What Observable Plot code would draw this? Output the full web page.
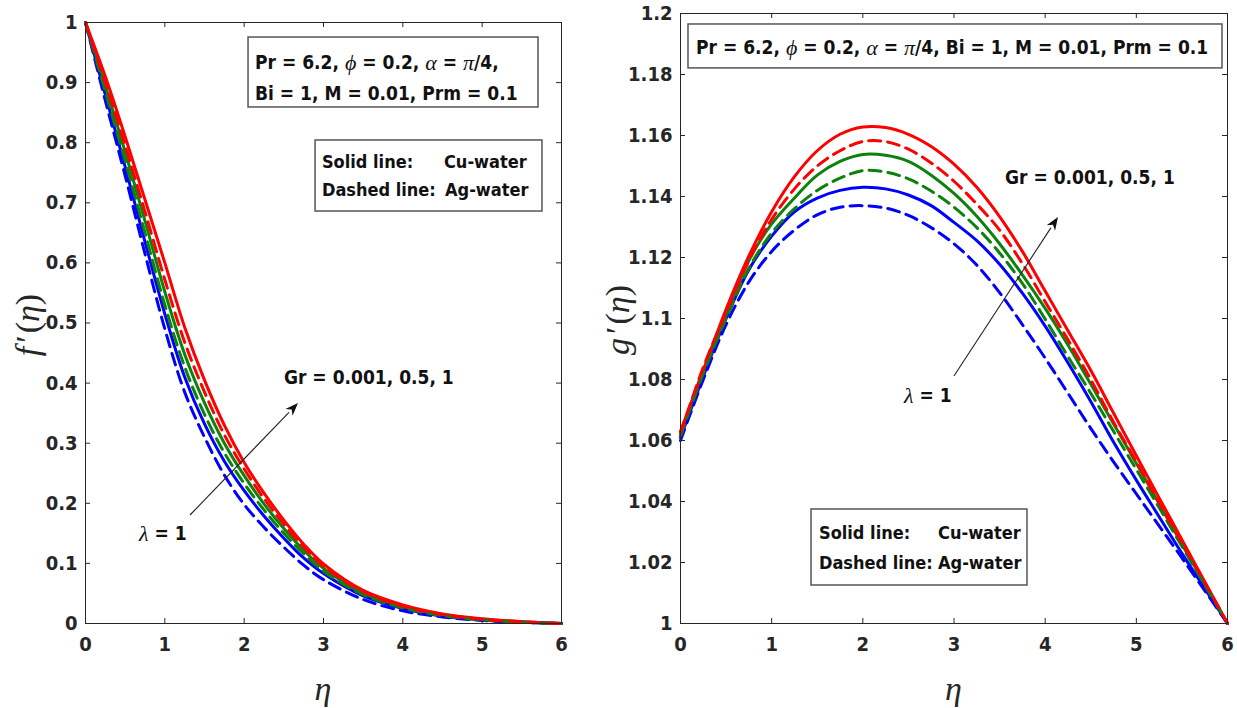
<!DOCTYPE html>
<html><head><meta charset="utf-8">
<script src="https://cdn.jsdelivr.net/npm/d3@7"></script>
<script src="https://cdn.jsdelivr.net/npm/@observablehq/plot@0.6"></script>
<style>
body{margin:0;background:#fff;}
#wrap{position:relative;width:1237px;height:708px;overflow:hidden;}
#left{position:absolute;left:0;top:0;}
#right{position:absolute;left:620px;top:0;}
svg text{font-stretch:condensed;}
</style></head><body><div id="wrap"><div id="left"></div><div id="right"></div></div>
<script>
// ---------- data ----------
const xTicks = [0, 1, 2, 3, 4, 5, 6];
const xTickLabels = ["0", "1", "2", "3", "4", "5", "6"];
const fTicks = [0, 0.1, 0.2, 0.3, 0.4, 0.5, 0.6, 0.7, 0.8, 0.9, 1];
const fTickLabels = ["0", "0.1", "0.2", "0.3", "0.4", "0.5", "0.6", "0.7", "0.8", "0.9", "1"];
const gTicks = [1, 1.02, 1.04, 1.06, 1.08, 1.1, 1.12, 1.14, 1.16, 1.18, 1.2];
const gTickLabels = ["1", "1.02", "1.04", "1.06", "1.08", "1.1", "1.12", "1.14", "1.16", "1.18", "1.2"];

const grValues = ["0.001", "0.5", "1"];
const seriesColors = ["#0000ff", "#0c820c", "#ff0000"];

// f'(eta)
const etaF = [0, 0.25, 0.5, 0.75, 1, 1.25, 1.5, 1.75, 2, 2.25, 2.5, 2.75, 3, 3.5, 4, 4.5, 5, 5.5, 6];
const fCu_Gr0001 = [1, 0.88, 0.76, 0.635, 0.515, 0.41, 0.332, 0.27, 0.221, 0.179, 0.142, 0.109, 0.083, 0.046, 0.025, 0.012, 0.006, 0.002, 0];
const fCu_Gr05   = [1, 0.895, 0.785, 0.67, 0.552, 0.448, 0.367, 0.3, 0.246, 0.199, 0.158, 0.122, 0.092, 0.051, 0.028, 0.014, 0.007, 0.003, 0];
const fCu_Gr1    = [1, 0.91, 0.81, 0.705, 0.6, 0.493, 0.405, 0.33, 0.268, 0.217, 0.172, 0.132, 0.099, 0.055, 0.031, 0.016, 0.008, 0.003, 0];
const fAg_Gr0001 = [1, 0.87, 0.745, 0.615, 0.49, 0.385, 0.31, 0.247, 0.198, 0.16, 0.127, 0.097, 0.073, 0.04, 0.021, 0.011, 0.005, 0.002, 0];
const fAg_Gr05   = [1, 0.885, 0.77, 0.65, 0.53, 0.427, 0.348, 0.284, 0.233, 0.189, 0.15, 0.116, 0.087, 0.048, 0.026, 0.013, 0.006, 0.002, 0];
const fAg_Gr1    = [1, 0.9, 0.795, 0.685, 0.572, 0.468, 0.385, 0.314, 0.257, 0.208, 0.165, 0.127, 0.095, 0.053, 0.029, 0.015, 0.007, 0.003, 0];

// g'(eta)
const etaG = [0, 0.25, 0.5, 0.75, 1, 1.25, 1.5, 1.75, 2, 2.25, 2.5, 2.75, 3, 3.25, 3.5, 3.75, 4, 4.25, 4.5, 4.75, 5, 5.25, 5.5, 5.75, 6];
const gCu_Gr0001 = [1.061, 1.081, 1.1, 1.116, 1.127, 1.135, 1.1395, 1.142, 1.143, 1.1425, 1.1405, 1.137, 1.1315, 1.1255, 1.1178, 1.1083, 1.0975, 1.0855, 1.0728, 1.0595, 1.047, 1.035, 1.023, 1.0115, 1.0];
const gCu_Gr05   = [1.062, 1.083, 1.101, 1.119, 1.131, 1.1395, 1.147, 1.1515, 1.1538, 1.1535, 1.1515, 1.147, 1.141, 1.1335, 1.1245, 1.1143, 1.1033, 1.0913, 1.0785, 1.0655, 1.0525, 1.0393, 1.026, 1.013, 1.0];
const gCu_Gr1    = [1.063, 1.083, 1.103, 1.1205, 1.135, 1.1465, 1.155, 1.1604, 1.1628, 1.1626, 1.1604, 1.1564, 1.1506, 1.143, 1.1334, 1.122, 1.109, 1.096, 1.083, 1.069, 1.055, 1.0412, 1.0275, 1.0137, 1.0];
const gAg_Gr0001 = [1.06, 1.08, 1.098, 1.112, 1.122, 1.129, 1.134, 1.1365, 1.137, 1.1362, 1.1338, 1.1298, 1.1245, 1.1175, 1.1085, 1.098, 1.087, 1.0755, 1.064, 1.053, 1.0425, 1.032, 1.0215, 1.0108, 1.0];
const gAg_Gr05   = [1.0615, 1.082, 1.1, 1.1165, 1.128, 1.136, 1.142, 1.146, 1.1485, 1.148, 1.1458, 1.1418, 1.1365, 1.1298, 1.1215, 1.1115, 1.0998, 1.0875, 1.0755, 1.063, 1.0505, 1.038, 1.0253, 1.0127, 1.0];
const gAg_Gr1    = [1.0625, 1.084, 1.102, 1.119, 1.1325, 1.1425, 1.15, 1.155, 1.158, 1.158, 1.1555, 1.151, 1.145, 1.1375, 1.129, 1.118, 1.1055, 1.093, 1.08, 1.066, 1.053, 1.0395, 1.0265, 1.0135, 1.0];

// ---------- build tables ----------
function rows(eta, list) {
  const out = [];
  for (const [fluid, gr, vals] of list) vals.forEach((v, i) => out.push({eta: eta[i], v, fluid, gr, key: fluid + gr}));
  return out;
}
const fRows = rows(etaF, [
  ["Cu", "0.001", fCu_Gr0001], ["Ag", "0.001", fAg_Gr0001],
  ["Cu", "0.5", fCu_Gr05], ["Ag", "0.5", fAg_Gr05],
  ["Cu", "1", fCu_Gr1], ["Ag", "1", fAg_Gr1]]);
const gRows = rows(etaG, [
  ["Cu", "0.001", gCu_Gr0001], ["Ag", "0.001", gAg_Gr0001],
  ["Cu", "0.5", gCu_Gr05], ["Ag", "0.5", gAg_Gr05],
  ["Cu", "1", gCu_Gr1], ["Ag", "1", gAg_Gr1]]);

const FONT = '"Liberation Sans Narrow","DejaVu Sans Condensed","DejaVu Sans","Liberation Sans",Arial,sans-serif';
const SERIF = '"Liberation Serif","DejaVu Serif",serif';
const AX = "#262626";
const H = 708;

function panel({data, width, ml, mr, mt, mb, ydomain, yticks, ylabels}) {
  const fw = width - ml - mr, fh = H - mt - mb;
  const byFluid = f => data.filter(d => d.fluid === f);
  return Plot.plot({
    width, height: H, marginLeft: ml, marginRight: mr, marginTop: mt, marginBottom: mb,
    style: {fontFamily: FONT, fontSize: "20px", fontWeight: "bold", color: AX, background: "white", overflow: "visible"},
    x: {domain: [0, 6], label: null},
    y: {domain: ydomain, label: null},
    color: {domain: grValues, range: seriesColors},
    marks: [
      Plot.axisX(xTicks, {tickSize: 0, tickPadding: 13, label: null, tickFormat: d => xTickLabels[xTicks.indexOf(d)]}),
      Plot.axisY(yticks, {tickSize: 0, tickPadding: 8, label: null, tickFormat: d => ylabels[yticks.indexOf(d)]}),
      Plot.tickX(xTicks, {x: d => d, insetTop: fh - 5, stroke: AX, strokeWidth: 1}),
      Plot.tickX(xTicks, {x: d => d, insetBottom: fh - 5, stroke: AX, strokeWidth: 1}),
      Plot.tickY(yticks, {y: d => d, insetRight: fw - 5, stroke: AX, strokeWidth: 1}),
      Plot.tickY(yticks, {y: d => d, insetLeft: fw - 5, stroke: AX, strokeWidth: 1}),
      Plot.line(byFluid("Cu"), {x: "eta", y: "v", z: "key", stroke: "gr", strokeWidth: 3, curve: "catmull-rom"}),
      Plot.line(byFluid("Ag"), {x: "eta", y: "v", z: "key", stroke: "gr", strokeWidth: 3, strokeDasharray: "12,7", curve: "catmull-rom"}),
      Plot.frame({stroke: AX, strokeWidth: 1})
    ]
  });
}

function annotate(svg, spec) {
  const x = svg.scale("x"), y = svg.scale("y");
  const X = v => x.apply(v), Y = v => y.apply(v);
  const g = d3.select(svg).append("g").attr("font-family", FONT).attr("font-weight", "bold").attr("font-size", 19)
    .attr("fill", "#111").attr("text-anchor", "start");
  for (const b of spec.boxes || []) {
    g.append("rect").attr("x", X(b.x1)).attr("y", Y(b.y2)).attr("width", X(b.x2) - X(b.x1)).attr("height", Y(b.y1) - Y(b.y2))
      .attr("fill", "white").attr("stroke", "#555").attr("stroke-width", 1.5);
  }
  for (const t of spec.texts || []) {
    const el = g.append("text").attr("x", X(t.x)).attr("y", Y(t.y)).attr("dominant-baseline", "central").attr("text-anchor", "start");
    if (t.size) el.attr("font-size", t.size);
    for (const part of t.parts) {
      const isGreek = Array.isArray(part);
      const s = el.append("tspan").text(isGreek ? part[0] : part);
      if (isGreek) s.attr("font-family", SERIF).attr("font-style", "italic").attr("font-weight", "normal").attr("font-size", 22);
    }
  }
  for (const a of spec.arrows || []) {
    const x1 = X(a.x1), y1 = Y(a.y1), x2 = X(a.x2), y2 = Y(a.y2);
    const ang = Math.atan2(y2 - y1, x2 - x1), L = 13, W = 5;
    const bx = x2 - L * Math.cos(ang), by = y2 - L * Math.sin(ang);
    g.append("line").attr("x1", x1).attr("y1", y1).attr("x2", bx).attr("y2", by).attr("stroke", "#222").attr("stroke-width", 1.1);
    const p = [[x2, y2], [bx + W * Math.sin(ang), by - W * Math.cos(ang)], [x2 - 0.7 * L * Math.cos(ang), y2 - 0.7 * L * Math.sin(ang)], [bx - W * Math.sin(ang), by + W * Math.cos(ang)]];
    g.append("polygon").attr("points", p.map(q => q.join(",")).join(" ")).attr("fill", "#111");
  }
  // axis labels
  const x0 = X(0), x6 = X(6);
  g.append("text").attr("x", (x0 + x6) / 2).attr("y", spec.xLabelY).attr("text-anchor", "middle").attr("dominant-baseline", "central")
    .attr("font-family", SERIF).attr("font-style", "italic").attr("font-weight", "normal").attr("font-size", 34).attr("fill", AX).text("η");
  const yl = g.append("text").attr("transform", `translate(${spec.yLabelX},${spec.yLabelY}) rotate(-90)`).attr("text-anchor", "middle")
    .attr("dominant-baseline", "central").attr("font-family", SERIF).attr("font-weight", "normal").attr("font-size", 34).attr("fill", AX);
  yl.append("tspan").attr("font-style", "italic").text(spec.yName);
  yl.append("tspan").attr("dx", 4).text("′");
  yl.append("tspan").attr("dx", 2).text("(");
  yl.append("tspan").attr("font-style", "italic").text("η");
  yl.append("tspan").text(")");
}

// ---------- left panel ----------
const left = panel({data: fRows, width: 620, ml: 85, mr: 59, mt: 22, mb: 85, ydomain: [0, 1], yticks: fTicks, ylabels: fTickLabels});
annotate(left, {
  boxes: [{x1: 2.055, x2: 5.71, y1: 0.8586, y2: 0.975}, {x1: 2.90, x2: 5.76, y1: 0.6855, y2: 0.8037}],
  texts: [
    {x: 2.143, y: 0.9334, parts: ["Pr = 6.2, ", ["ϕ"], " = 0.2, ", ["α"], " = ", ["π"], "/4,"]},
    {x: 2.143, y: 0.8819, parts: ["Bi = 1, M = 0.01, Prm = 0.1"]},
    {x: 2.987, y: 0.7687, size: 18, parts: ["Solid line:"]},
    {x: 4.525, y: 0.7687, size: 18, parts: ["Cu-water"]},
    {x: 2.987, y: 0.7221, size: 18, parts: ["Dashed line:"]},
    {x: 4.538, y: 0.7221, size: 18, parts: ["Ag-water"]},
    {x: 2.508, y: 0.4093, parts: ["Gr = 0.001, 0.5, 1"]},
    {x: 0.681, y: 0.1498, parts: [["λ"], " = 1"]}
  ],
  arrows: [{x1: 1.3236, y1: 0.1797, x2: 2.685, y2: 0.366}],
  xLabelY: 688, yLabelX: 27, yLabelY: 325, yName: "f"
});
document.getElementById("left").appendChild(left);

// ---------- right panel ----------
const right = panel({data: gRows, width: 617, ml: 60, mr: 10, mt: 13, mb: 85, ydomain: [1, 1.2], yticks: gTicks, ylabels: gTickLabels});
annotate(right, {
  boxes: [{x1: 0.0877, x2: 5.945, y1: 1.1820, y2: 1.1964}, {x1: 1.437, x2: 3.806, y1: 1.01246, y2: 1.03738}],
  texts: [
    {x: 0.1755, y: 1.18885, parts: ["Pr = 6.2, ", ["ϕ"], " = 0.2, ", ["α"], " = ", ["π"], "/4, Bi = 1, M = 0.01, Prm = 0.1"]},
    {x: 1.5246, y: 1.02984, size: 18, parts: ["Solid line:"]},
    {x: 2.830, y: 1.02984, size: 18, parts: ["Cu-water"]},
    {x: 1.5246, y: 1.0200, size: 18, parts: ["Dashed line:"]},
    {x: 2.830, y: 1.0200, size: 18, parts: ["Ag-water"]},
    {x: 3.565, y: 1.1462, parts: ["Gr = 0.001, 0.5, 1"]},
    {x: 2.457, y: 1.07475, parts: [["λ"], " = 1"]}
  ],
  arrows: [{x1: 3.005, y1: 1.081, x2: 4.146, y2: 1.1331}],
  xLabelY: 688, yLabelX: -3, yLabelY: 320, yName: "g"
});
document.getElementById("right").appendChild(right);
</script>
</body></html>
